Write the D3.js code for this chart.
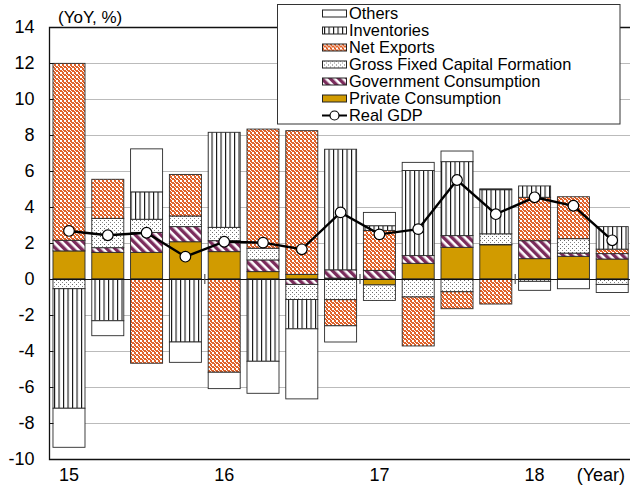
<!DOCTYPE html>
<html>
<head>
<meta charset="utf-8">
<script src="https://cdn.jsdelivr.net/npm/d3@7"></script>
<style>
  body { margin: 0; background: #fff; }
  svg { display: block; font-family: Arial, "Liberation Sans", sans-serif; }
</style>
</head>
<body>
<svg width="630" height="488"></svg>
<script>
// quarterly contributions to real GDP growth (YoY, %), 2015Q1 - 2018Q3
var quarters = ["15Q1","15Q2","15Q3","15Q4","16Q1","16Q2","16Q3","16Q4","17Q1","17Q2","17Q3","17Q4","18Q1","18Q2","18Q3"];
var privateCons = [1.56, 1.48, 1.48, 2.07, 1.52, 0.41, 0.26, 0.05, -0.33, 0.87, 1.76, 1.90, 1.13, 1.26, 1.11];
var govCons     = [0.59, 0.26, 1.11, 0.84, 0.61, 0.65, -0.30, 0.46, 0.48, 0.43, 0.65, 0.02, 1.00, 0.18, 0.30];
var gfcf        = [-0.54, 1.63, 0.73, 0.59, 0.74, 0.65, -0.84, -1.15, -0.86, -1.00, -0.71, 0.59, -0.13, 0.80, -0.30];
var netExports  = [9.83, 2.17, -4.68, 2.31, -5.18, 6.62, 7.98, -1.45, 2.22, -2.72, -0.94, -1.39, 2.41, 2.33, 0.25];
var inventories = [-6.64, -2.32, 1.52, -3.50, 5.28, -4.57, -1.63, 6.70, 0.26, 4.73, 4.11, 2.45, 0.63, 0.00, 1.25];
var others      = [-2.17, -0.83, 2.39, -1.13, -0.91, -1.78, -3.89, -0.90, 0.74, 0.45, 0.59, 0.05, -0.50, -0.54, -0.45];
var realGDP     = [2.67, 2.43, 2.57, 1.24, 2.07, 2.02, 1.65, 3.70, 2.48, 2.77, 5.50, 3.60, 4.54, 4.07, 2.15];
var yearLabels  = ["15", "16", "17", "18"];
var yTicks      = [-10, -8, -6, -4, -2, 0, 2, 4, 6, 8, 10, 12, 14];

var keys = ["pc", "gc", "gfcf", "nx", "inv", "oth"];
var names = {
  oth: "Others", inv: "Inventories", nx: "Net Exports",
  gfcf: "Gross Fixed Capital Formation", gc: "Government Consumption", pc: "Private Consumption"
};

(function() {
  var data = quarters.map(function(q, i) {
    return { q: q, pc: privateCons[i], gc: govCons[i], gfcf: gfcf[i], nx: netExports[i],
             inv: inventories[i], oth: others[i], gdp: realGDP[i] };
  });

  var svg = d3.select("svg");
  var plotLeft = 49.5, plotTop = 27, plotBottom = 459, plotRight = 632;

  var x = d3.scaleBand()
      .domain(quarters)
      .range([49.1, 632.1])
      .paddingInner(0.175)
      .paddingOuter(0.1);

  var y = d3.scaleLinear()
      .domain([-10, 14])
      .range([plotBottom, plotTop]);

  // patterns
  var defs = svg.append("defs");

  var pInv = defs.append("pattern").attr("id", "p-inv").attr("patternUnits", "userSpaceOnUse")
      .attr("width", 4.5).attr("height", 10);
  pInv.append("rect").attr("width", 4.5).attr("height", 10).attr("fill", "#fff");
  pInv.append("rect").attr("x", 0).attr("width", 1.1).attr("height", 10).attr("fill", "#111");

  // orange checks with white holes
  var pNx = defs.append("pattern").attr("id", "p-nx").attr("patternUnits", "userSpaceOnUse")
      .attr("width", 4).attr("height", 4);
  pNx.append("rect").attr("width", 4).attr("height", 4).attr("fill", "#e0622a");
  pNx.append("rect").attr("width", 2).attr("height", 2).attr("fill", "#fff");
  pNx.append("rect").attr("x", 2).attr("y", 2).attr("width", 1).attr("height", 1).attr("fill", "#fff");
  pNx.append("rect").attr("x", 3).attr("y", 3).attr("width", 1).attr("height", 1).attr("fill", "#fff");

  var pGf = defs.append("pattern").attr("id", "p-gfcf").attr("patternUnits", "userSpaceOnUse")
      .attr("width", 4).attr("height", 4);
  pGf.append("rect").attr("width", 4).attr("height", 4).attr("fill", "#fff");
  pGf.append("rect").attr("x", 0).attr("y", 0).attr("width", 1).attr("height", 1).attr("fill", "#666");
  pGf.append("rect").attr("x", 2).attr("y", 2).attr("width", 1).attr("height", 1).attr("fill", "#888");

  var pGc = defs.append("pattern").attr("id", "p-gc").attr("patternUnits", "userSpaceOnUse")
      .attr("width", 6).attr("height", 6).attr("patternTransform", "rotate(-45)");
  pGc.append("rect").attr("width", 6).attr("height", 6).attr("fill", "#fff");
  pGc.append("rect").attr("width", 3.4).attr("height", 6).attr("fill", "#7b2c5c");

  var fills = { pc: "#d19b00", gc: "url(#p-gc)", gfcf: "url(#p-gfcf)", nx: "url(#p-nx)", inv: "url(#p-inv)", oth: "#fff" };

  // gridlines
  svg.append("g")
    .selectAll("line")
    .data(yTicks.filter(function(t) { return t != 0 && t != 14 && t != -10; }))
    .enter().append("line")
      .attr("x1", plotLeft).attr("x2", plotRight)
      .attr("y1", function(d) { return Math.round(y(d)) + 0.5; })
      .attr("y2", function(d) { return Math.round(y(d)) + 0.5; })
      .attr("stroke", "#777")
      .attr("stroke-dasharray", "1,1");

  // stacked bars
  var series = d3.stack().keys(keys).offset(d3.stackOffsetDiverging)(data);

  svg.append("g")
    .selectAll("g")
    .data(series)
    .enter().append("g")
      .attr("fill", function(d) { return fills[d.key]; })
    .selectAll("rect")
    .data(function(d) { return d; })
    .enter().append("rect")
      .attr("x", function(d) { return x(d.data.q); })
      .attr("width", x.bandwidth())
      .attr("y", function(d) { return y(Math.max(d[0], d[1])); })
      .attr("height", function(d) { return Math.abs(y(d[0]) - y(d[1])); })
      .attr("stroke", "#2a2a2a")
      .attr("stroke-width", 0.9);

  // zero line and year separators
  svg.append("line")
    .attr("x1", plotLeft).attr("x2", plotRight)
    .attr("y1", y(0) + 0.5).attr("y2", y(0) + 0.5)
    .attr("stroke", "#111").attr("stroke-width", 1.2);

  var gap = x.step() - x.bandwidth();
  svg.append("g")
    .selectAll("line")
    .data(["16Q1", "17Q1", "18Q1"])
    .enter().append("line")
      .attr("x1", function(d) { return x(d) - gap / 2; })
      .attr("x2", function(d) { return x(d) - gap / 2; })
      .attr("y1", y(0) - 5).attr("y2", y(0) + 5)
      .attr("stroke", "#555").attr("stroke-width", 1.2);

  // frame and left axis
  svg.append("path")
    .attr("d", "M" + plotRight + "," + (plotTop + 0.5) + "H" + plotLeft + "V" + (plotBottom + 0.5) + "H" + plotRight)
    .attr("fill", "none").attr("stroke", "#111").attr("stroke-width", 1.3);

  var yAxis = svg.append("g")
    .attr("transform", "translate(" + plotLeft + ",0)");
  yAxis.selectAll("line")
    .data(yTicks)
    .enter().append("line")
      .attr("x1", 0).attr("x2", 4)
      .attr("y1", function(d) { return Math.round(y(d)) + 0.5; })
      .attr("y2", function(d) { return Math.round(y(d)) + 0.5; })
      .attr("stroke", "#111");
  yAxis.selectAll("text")
    .data(yTicks)
    .enter().append("text")
      .attr("x", -15)
      .attr("y", function(d) { return y(d); })
      .attr("dy", "0.35em")
      .attr("text-anchor", "end")
      .attr("font-size", 18)
      .text(function(d) { return d; });

  svg.append("text")
    .attr("x", 58).attr("y", 23)
    .attr("font-size", 17)
    .text("(YoY, %)");

  // year labels
  svg.append("g")
    .selectAll("text")
    .data(yearLabels)
    .enter().append("text")
      .attr("x", function(d) { return x(d + "Q1") + x.bandwidth() / 2; })
      .attr("y", 481)
      .attr("text-anchor", "middle")
      .attr("font-size", 18)
      .text(function(d) { return d; });

  svg.append("text")
    .attr("x", 625).attr("y", 481)
    .attr("text-anchor", "end")
    .attr("font-size", 18)
    .text("(Year)");

  // real GDP line
  var line = d3.line()
    .x(function(d) { return x(d.q) + x.bandwidth() / 2; })
    .y(function(d) { return y(d.gdp); });

  svg.append("path")
    .datum(data)
    .attr("d", line)
    .attr("fill", "none")
    .attr("stroke", "#000")
    .attr("stroke-width", 2.4);

  svg.append("g")
    .selectAll("circle")
    .data(data)
    .enter().append("circle")
      .attr("cx", function(d) { return x(d.q) + x.bandwidth() / 2; })
      .attr("cy", function(d) { return y(d.gdp); })
      .attr("r", 5.3)
      .attr("fill", "#fff")
      .attr("stroke", "#000")
      .attr("stroke-width", 1.2);

  // legend
  var legend = svg.append("g");
  legend.append("rect")
    .attr("x", 277.5).attr("y", 4.5)
    .attr("width", 342.5).attr("height", 119.5)
    .attr("fill", "#fff").attr("stroke", "#333");

  var legendKeys = ["oth", "inv", "nx", "gfcf", "gc", "pc"];
  var item = legend.selectAll("g.item")
    .data(legendKeys)
    .enter().append("g")
      .attr("class", "item")
      .attr("transform", function(d, i) { return "translate(0," + (13.5 + i * 17) + ")"; });

  item.append("rect")
    .attr("x", 322.5).attr("y", -3.5)
    .attr("width", 24).attr("height", 7)
    .attr("fill", function(d) { return fills[d]; })
    .attr("stroke", "#222");

  item.append("text")
    .attr("x", 349).attr("y", 0)
    .attr("dy", "0.36em")
    .attr("font-size", 16.4)
    .text(function(d) { return names[d]; });

  var gdpItem = legend.append("g").attr("transform", "translate(0," + (13.5 + 6 * 17) + ")");
  gdpItem.append("line").attr("x1", 322).attr("x2", 347).attr("stroke", "#000").attr("stroke-width", 2);
  gdpItem.append("circle").attr("cx", 334.5).attr("r", 4.5).attr("fill", "#fff").attr("stroke", "#000").attr("stroke-width", 1.2);
  gdpItem.append("text")
    .attr("x", 349).attr("y", 0)
    .attr("dy", "0.36em")
    .attr("font-size", 16.4)
    .text("Real GDP");
})();
</script>
</body>
</html>
